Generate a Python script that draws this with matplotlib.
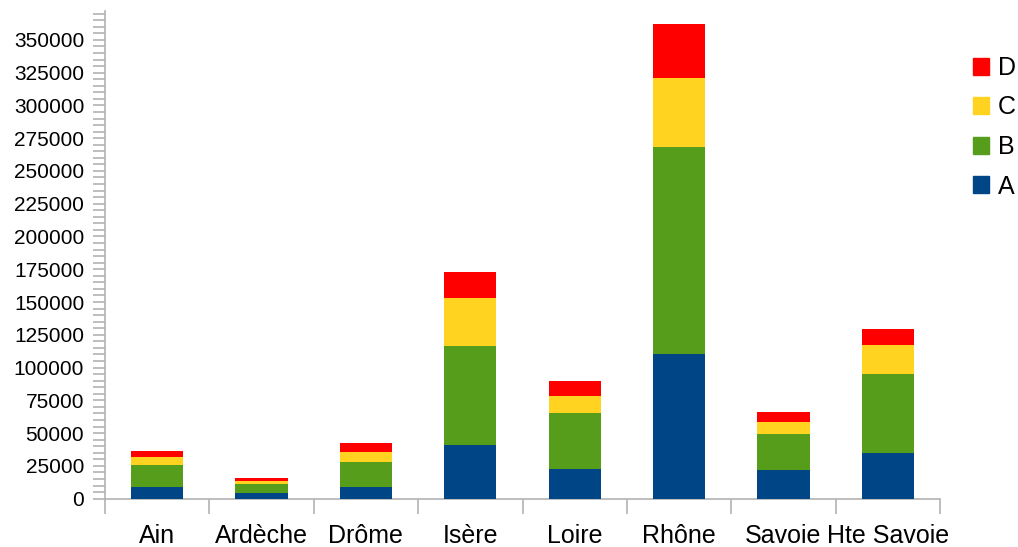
import matplotlib
matplotlib.use("Agg")
import matplotlib.pyplot as plt
from matplotlib.patches import Patch
from matplotlib.ticker import MultipleLocator
import numpy as np

plt.rcParams['font.family'] = ['Liberation Sans', 'DejaVu Sans']

departements = ["Ain", "Ardèche", "Drôme", "Isère", "Loire", "Rhône", "Savoie", "Hte Savoie"]
series_names = ["A", "B", "C", "D"]
serie_a = [8900, 4400, 8900, 40950, 22650, 110300, 21850, 34900]
serie_b = [16900, 6850, 19100, 75500, 42700, 157800, 27500, 60200]
serie_c = [6000, 2300, 7550, 36550, 12900, 52650, 9150, 22150]
serie_d = [4900, 2300, 6850, 19900, 11450, 41150, 7550, 12100]
colors = ["#004586", "#579D1C", "#FFD320", "#FF0000"]

W, H = 1018, 547
fig = plt.figure(figsize=(W / 100, H / 100), dpi=100)
ax = fig.add_axes([105 / W, (H - 498.7) / H, (940 - 105) / W, (498.7 - 11) / H])

x = np.arange(len(departements))
bottom = np.zeros(len(departements))
for name, vals, col in zip(series_names, [serie_a, serie_b, serie_c, serie_d], colors):
    ax.bar(x, vals, width=0.5, bottom=bottom, color=col, label=name, zorder=3)
    bottom += np.array(vals)

ax.set_xlim(-0.5, len(departements) - 0.5)
ax.set_ylim(0, 372000)

axis_col = "#b3b3b3"
for s in ["top", "right"]:
    ax.spines[s].set_visible(False)
for s in ["left", "bottom"]:
    ax.spines[s].set_color(axis_col)
    ax.spines[s].set_linewidth(1.2)

ax.yaxis.set_minor_locator(MultipleLocator(5000))
ax.set_yticks(np.arange(0, 350001, 25000))
ax.tick_params(axis="y", which="both", direction="out", length=9, width=1.2,
               color=axis_col, labelsize=15, pad=6, labelcolor="black")

ax.set_xticks(x)
ax.set_xticklabels(departements)
ax.tick_params(axis="x", which="major", length=0, labelsize=18, pad=18.5, labelcolor="black")
ax.set_xticks(np.arange(-0.5, len(departements), 1.0), minor=True)
ax.tick_params(axis="x", which="minor", direction="out", length=11, width=1.2, color=axis_col)

handles = [Patch(facecolor=c, edgecolor=c) for c in colors][::-1]
labels = series_names[::-1]
fig.legend(handles, labels, loc="upper left", bbox_to_anchor=(973 / W, 1 - 56 / H),
           frameon=False, fontsize=18, handlelength=0.65, handleheight=0.65,
           handletextpad=0.35, labelspacing=0.62, borderaxespad=0, borderpad=0)

fig.savefig("out.png", dpi=100, facecolor="white")
